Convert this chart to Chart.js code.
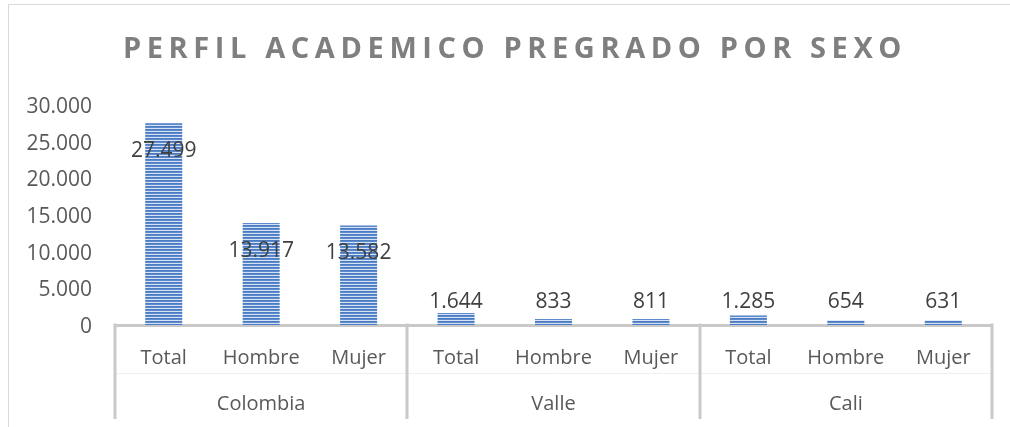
<!DOCTYPE html>
<html><head><meta charset="utf-8">
<script src="https://cdn.jsdelivr.net/npm/chart.js@4.4.1/dist/chart.umd.min.js"></script>
<style>html,body{margin:0;padding:0;background:#fff;}canvas{display:block}</style>
</head><body>
<canvas id="c" width="1010" height="427" style="width:1010px;height:427px"></canvas>
<script>
const titleText = 'PERFIL ACADEMICO PREGRADO POR SEXO';
const groups = ['Colombia', 'Valle', 'Cali'];
const categories = ['Total', 'Hombre', 'Mujer', 'Total', 'Hombre', 'Mujer', 'Total', 'Hombre', 'Mujer'];
const values = [27499, 13917, 13582, 1644, 833, 811, 1285, 654, 631];
const yMin = 0, yMax = 30000, yStep = 5000;

const fmt = v => String(Math.round(v)).replace(/\B(?=(\d{3})+(?!\d))/g, '.');

function stripePattern(ctx) {
  const p = document.createElement('canvas');
  p.width = 4; p.height = 3;
  const g = p.getContext('2d');
  g.fillStyle = '#4a7bc3'; g.fillRect(0, 0, 4, 1);
  g.fillStyle = '#5b8acd'; g.fillRect(0, 1, 4, 1);
  g.fillStyle = '#d6e2f2'; g.fillRect(0, 2, 4, 1);
  return ctx.createPattern(p, 'repeat');
}

const FONT = "'Open Sans', 'DejaVu Sans', sans-serif";
const ctx = document.getElementById('c').getContext('2d');

const framePlugin = {
  id: 'frame',
  beforeDraw(chart) {
    const c = chart.ctx;
    c.save();
    c.strokeStyle = '#d9d9d9'; c.lineWidth = 1;
    c.strokeRect(8.5, 4.5, 1300, 700);
    c.restore();
    const tb = chart.titleBlock;
    if (tb && !tb._wrapped) {
      const orig = tb.draw;
      tb.draw = function () {
        const cc = this.ctx;
        cc.save();
        cc.translate(15, 0);
        cc.letterSpacing = '5.6px';
        orig.apply(this, arguments);
        cc.restore();
      };
      tb._wrapped = true;
    }
  }
};

const groupPlugin = {
  id: 'groups',
  afterDraw(chart) {
    const x = chart.scales.x, x2 = chart.scales.x2;
    const c = chart.ctx;
    const top = chart.chartArea.bottom;
    const bottom = x2.bottom;
    c.save();
    c.strokeStyle = '#f0f0f0'; c.lineWidth = 1;
    c.beginPath(); c.moveTo(x.left, Math.round(x.bottom) + 0.5); c.lineTo(x.right, Math.round(x.bottom) + 0.5); c.stroke();
    c.strokeStyle = '#c9c9c9'; c.lineWidth = 3;
    const per = categories.length / groups.length;
    for (let g = 0; g <= groups.length; g++) {
      const px = Math.round(x.getPixelForValue(g * per - 0.5));
      c.beginPath(); c.moveTo(px, top - 1.5); c.lineTo(px, bottom); c.stroke();
    }
    c.restore();
  }
};

const labelPlugin = {
  id: 'vlabels',
  afterDatasetsDraw(chart) {
    const c = chart.ctx;
    const meta = chart.getDatasetMeta(0);
    const y = chart.scales.y;
    const zero = y.getPixelForValue(0);
    c.save();
    c.font = "21px " + FONT;
    c.fillStyle = '#404040';
    c.textAlign = 'center';
    c.textBaseline = 'middle';
    meta.data.forEach((bar, i) => {
      const h = bar.base - bar.y;
      const cy = h > 40 ? bar.y + 28 : zero - 23;
      c.fillText(fmt(values[i]), bar.x, cy);
    });
    c.restore();
  }
};

new Chart(ctx, {
  type: 'bar',
  data: {
    labels: categories,
    datasets: [{
      data: values,
      backgroundColor: stripePattern(ctx),
      borderWidth: 0,
      categoryPercentage: 1,
      barPercentage: 0.38
    }]
  },
  options: {
    responsive: false,
    animation: false,
    layout: { padding: { left: 8, right: 18, top: 0, bottom: 8 } },
    plugins: {
      legend: { display: false },
      tooltip: { enabled: false },
      title: {
        display: true,
        text: titleText,
        color: '#7f7f7f',
        font: { family: FONT, size: 29, weight: 'bold', lineHeight: 1 },
        padding: { top: 35, bottom: 41 }
      }
    },
    scales: {
      y: {
        min: yMin, max: yMax,
        ticks: {
          stepSize: yStep,
          color: '#595959',
          font: { family: FONT, size: 21 },
          padding: 23,
          labelOffset: 2,
          callback: v => fmt(v)
        },
        grid: { display: false, drawTicks: false },
        border: { display: false },
        afterFit: s => { s.width = 107; }
      },
      x: {
        position: 'bottom',
        ticks: {
          color: '#595959',
          font: { family: FONT, size: 20 },
          padding: 21,
          maxRotation: 0,
          autoSkip: false
        },
        grid: { display: false, drawTicks: false },
        border: { display: true, color: '#c9c9c9', width: 3 },
        afterFit: s => { s.height = 48; }
      },
      x2: {
        type: 'category',
        position: 'bottom',
        labels: groups,
        offset: true,
        ticks: {
          color: '#595959',
          font: { family: FONT, size: 20 },
          padding: 19,
          maxRotation: 0,
          autoSkip: false
        },
        grid: { display: false, drawTicks: false },
        border: { display: false },
        afterFit: s => { s.height = 46; }
      }
    }
  },
  plugins: [framePlugin, labelPlugin, groupPlugin]
});
</script>
</body></html>
